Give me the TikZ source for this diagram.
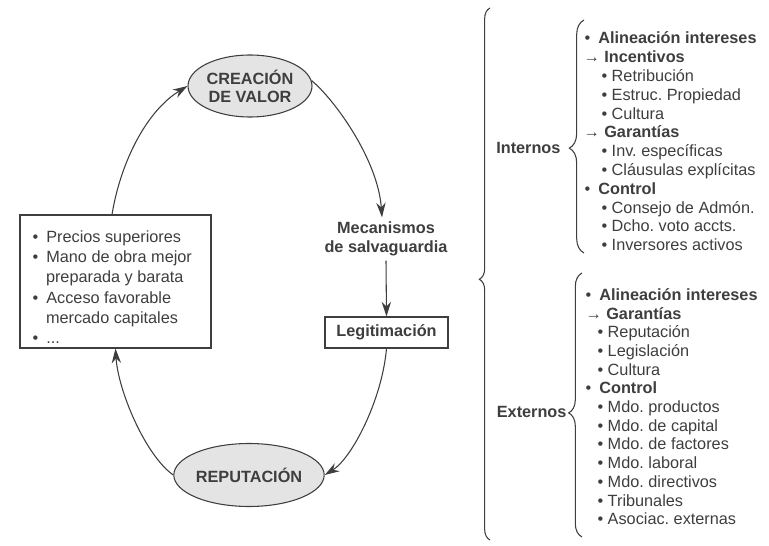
\documentclass[tikz,border=0pt]{standalone}
\usepackage{fontspec}
\setmainfont{Liberation Sans}
\usetikzlibrary{arrows.meta,decorations.pathreplacing,shapes.geometric}

\definecolor{ink}{RGB}{62,62,62}
\definecolor{shade}{RGB}{228,228,228}

\tikzset{every picture/.style={line width=0.8pt}}
\tikzset{
  txt/.style={inner sep=0pt, text=ink, font=\fontsize{12.2}{14}\selectfont},
  item/.style={txt, anchor=base west},
  head/.style={txt, font=\bfseries\fontsize{12.2}{14.25}\selectfont, align=center},
  oval/.style={ellipse, draw=ink, fill=shade, minimum width=93pt, minimum height=46.5pt, head, font=\bfseries\fontsize{12.2}{13.5}\selectfont},
  flow/.style={draw=ink, -{Stealth[length=11pt,width=7pt]}},
  curly/.style={draw=ink, decorate, decoration={brace, amplitude=#1}},
}

\begin{document}
\frenchspacing
\begin{tikzpicture}[x=0.75pt,y=0.75pt,yscale=-1,xscale=1]
\useasboundingbox (0,0) rectangle (769,546);

%Shape: Ellipse [id:crea]
\node[oval] (crea) at (250,86) {CREACIÓN\\DE VALOR};
%Shape: Ellipse [id:repu]
\node[oval, minimum height=47.25pt] (repu) at (249,475) {REPUTACIÓN};
%Shape: Rectangle [id:ventajas]
\node[draw=ink, minimum width=143.25pt, minimum height=99.75pt, inner sep=0pt] (ventajas) at (115.5,281.5) {};
% Text Node
\node[head, inner sep=3pt] (meca) at (386,239) {Mecanismos\\de salvaguardia};
%Shape: Rectangle [id:legi]
\node[draw=ink, head, minimum width=92.25pt, minimum height=23.25pt] (legi) at (386.5,332.5) {Legitimación};

% Text Node
\node[item] (v1) at (32,242.5) {•\enspace Precios superiores};
\node[item] (v2) at (32,262.5) {•\enspace Mano de obra mejor};
\node[item] (v3) at (45.5,282.5) {preparada y barata};
\node[item] (v4) at (32,303.5) {•\enspace Acceso favorable};
\node[item] (v5) at (45.5,323.5) {mercado capitales};
\node[item] (v6) at (32,343) {•\enspace ...};

%Curve Lines [id:ventajas-crea]
\draw[flow] ([xshift=-2.6pt]ventajas.north) .. controls (120,165) and (145,112) .. (crea.west);
%Curve Lines [id:crea-meca]
\draw[flow] (crea.5) .. controls (335,100) and (378,160) .. ([xshift=-3pt]meca.north);
%Straight Lines [id:meca-legi]
\draw[flow] (meca.south) -- (legi.north);
%Curve Lines [id:legi-repu]
\draw[flow] (legi.south) .. controls (382,400) and (352,458) .. (repu.east);
%Curve Lines [id:repu-ventajas]
\draw[flow] (repu.west) .. controls (145,455) and (118,390) .. (ventajas.south);

%Shape: Brace [id:todos]
\draw[curly=8pt, decoration={aspect=0.49}] (490,540) -- (490,8);
%Shape: Brace [id:internos]
\draw[curly=11pt, decoration={aspect=0.45}] (584,253) -- (584,20);
%Shape: Brace [id:externos]
\draw[curly=10pt, decoration={aspect=0.47}] (582,537) -- (582,273);

% Text Node
\node[head, anchor=east] (intern) at (561,148) {Internos};
% Text Node
\node[head, anchor=east] (extern) at (567,412) {Externos};

% Text Node
\node[item] (i1) at (584,43.8) {•\enspace\textbf{Alineación intereses}};
\node[item] (i2) at (583,62.6) {→ \textbf{Incentivos}};
\node[item] (i3) at (601,81.4) {•~Retribución};
\node[item] (i4) at (601,100.2) {•~Estruc. Propiedad};
\node[item] (i5) at (601,119) {•~Cultura};
\node[item] (i6) at (583,137.8) {→ \textbf{Garantías}};
\node[item] (i7) at (601,156.6) {•~Inv. específicas};
\node[item] (i8) at (601,175.4) {•~Cláusulas explícitas};
\node[item] (i9) at (584,194.2) {•\enspace\textbf{Control}};
\node[item] (i10) at (601,213) {•~Consejo de Admón.};
\node[item] (i11) at (601,231.8) {•~Dcho. voto accts.};
\node[item] (i12) at (601,250.6) {•~Inversores activos};

% Text Node
\node[item] (e1) at (585,300.3) {•\enspace\textbf{Alineación intereses}};
\node[item] (e2) at (585,319) {→ \textbf{Garantías}};
\node[item] (e3) at (597,337.7) {•~Reputación};
\node[item] (e4) at (597,356.4) {•~Legislación};
\node[item] (e5) at (597,375.1) {•~Cultura};
\node[item] (e6) at (585,393.8) {•\enspace\textbf{Control}};
\node[item] (e7) at (597,412.5) {•~Mdo. productos};
\node[item] (e8) at (597,431.2) {•~Mdo. de capital};
\node[item] (e9) at (597,449.9) {•~Mdo. de factores};
\node[item] (e10) at (597,468.6) {•~Mdo. laboral};
\node[item] (e11) at (597,487.3) {•~Mdo. directivos};
\node[item] (e12) at (597,506) {•~Tribunales};
\node[item] (e13) at (597,524.7) {•~Asociac. externas};
\end{tikzpicture}
\end{document}
